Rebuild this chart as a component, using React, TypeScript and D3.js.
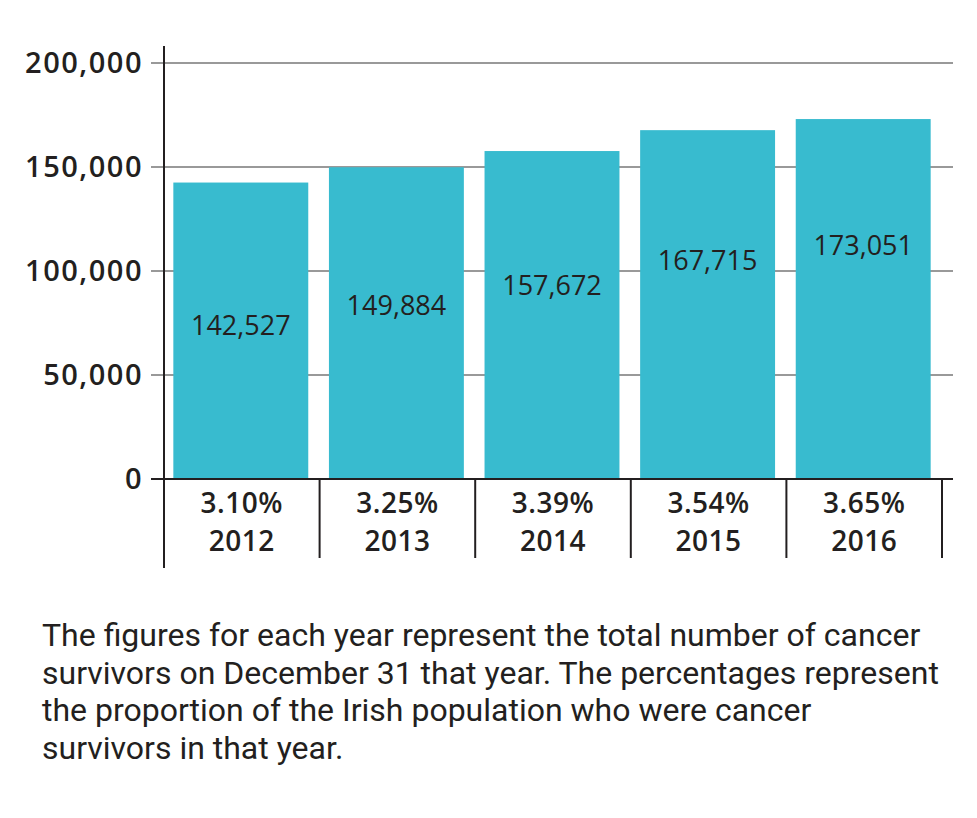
import React, { useEffect, useRef } from 'react';
import * as d3 from 'd3';

const years = ['2012', '2013', '2014', '2015', '2016'];
const survivors = [142527, 149884, 157672, 167715, 173051];
const percentages = ['3.10%', '3.25%', '3.39%', '3.54%', '3.65%'];
const yTicks = [0, 50000, 100000, 150000, 200000];
const captionLines = [
  'The figures for each year represent the total number of cancer',
  'survivors on December 31 that year. The percentages represent',
  'the proportion of the Irish population who were cancer',
  'survivors in that year.',
];

const width = 977;
const height = 818;
const ink = '#231f20';
const barColor = '#38bbcf';

const App: React.FC = () => {
  const svgRef = useRef<SVGSVGElement>(null);

  useEffect(() => {
    document.body.style.margin = '0';
    if (!svgRef.current) return;
    const svg = d3.select(svgRef.current);
    svg.selectAll('*').remove();

    const left = 164;
    const right = 942;
    const gridRight = 953;

    const x = d3.scaleBand<string>().domain(years).range([left, right]).padding(0);
    const y = d3.scaleLinear().domain([0, 200000]).range([479, 63]);

    // gridlines
    svg.append('g')
      .selectAll('line')
      .data(yTicks.filter(d => d > 0))
      .enter()
      .append('line')
      .attr('x1', left - 13)
      .attr('x2', gridRight)
      .attr('y1', d => y(d))
      .attr('y2', d => y(d))
      .attr('stroke', '#999999')
      .attr('stroke-width', 2);

    // bars
    const inset = x.bandwidth() * 0.06;
    svg.append('g')
      .selectAll('rect')
      .data(survivors)
      .enter()
      .append('rect')
      .attr('x', (_, i) => (x(years[i]) as number) + inset)
      .attr('width', x.bandwidth() - inset * 2 - 2)
      .attr('y', d => y(d))
      .attr('height', d => y(0) - y(d))
      .attr('fill', barColor);

    // value labels, sitting a little lower in the shorter bars
    svg.append('g')
      .selectAll('text')
      .data(survivors)
      .enter()
      .append('text')
      .attr('x', (_, i) => (x(years[i]) as number) + x.bandwidth() / 2 - 1)
      .attr('y', (d, i) => y(d) + 152 - i * 4)
      .attr('text-anchor', 'middle')
      .style('font-family', '"Open Sans", sans-serif')
      .style('font-size', '27px')
      .style('fill', ink)
      .text(d => d3.format(',')(d));

    // y tick labels
    svg.append('g')
      .selectAll('text')
      .data(yTicks)
      .enter()
      .append('text')
      .attr('x', 143)
      .attr('y', d => y(d))
      .attr('dy', '0.36em')
      .attr('text-anchor', 'end')
      .style('font-family', '"Open Sans", sans-serif')
      .style('font-weight', 600)
      .style('font-size', '29px')
      .style('letter-spacing', '1.5px')
      .style('fill', ink)
      .text(d => d3.format(',')(d));

    // baseline
    svg.append('line')
      .attr('x1', left - 13)
      .attr('x2', gridRight)
      .attr('y1', y(0))
      .attr('y2', y(0))
      .attr('stroke', ink)
      .attr('stroke-width', 2);

    // y axis line
    svg.append('line')
      .attr('x1', left)
      .attr('x2', left)
      .attr('y1', 46)
      .attr('y2', 568)
      .attr('stroke', ink)
      .attr('stroke-width', 2);

    // category separators
    svg.append('g')
      .selectAll('line')
      .data(years)
      .enter()
      .append('line')
      .attr('x1', d => (x(d) as number) + x.bandwidth())
      .attr('x2', d => (x(d) as number) + x.bandwidth())
      .attr('y1', y(0))
      .attr('y2', 558)
      .attr('stroke', ink)
      .attr('stroke-width', 2);

    // category labels
    const cat = svg.append('g')
      .selectAll('g')
      .data(years)
      .enter()
      .append('g')
      .attr('transform', d => `translate(${(x(d) as number) + x.bandwidth() / 2},0)`);
    cat.append('text')
      .attr('y', 513)
      .attr('text-anchor', 'middle')
      .style('font-family', '"Open Sans", sans-serif')
      .style('font-weight', 600)
      .style('font-size', '28px')
      .style('letter-spacing', '0.5px')
      .style('fill', ink)
      .text((_, i) => percentages[i]);
    cat.append('text')
      .attr('y', 551)
      .attr('text-anchor', 'middle')
      .style('font-family', '"Open Sans", sans-serif')
      .style('font-weight', 600)
      .style('font-size', '28px')
      .style('letter-spacing', '0.5px')
      .style('fill', ink)
      .text(d => d);

    // caption
    svg.append('g')
      .selectAll('text')
      .data(captionLines)
      .enter()
      .append('text')
      .attr('x', 42)
      .attr('y', (_, i) => 646 + i * 37.5)
      .style('font-family', 'Roboto, sans-serif')
      .style('font-size', '32px')
      .style('fill', ink)
      .text(d => d);
  }, []);

  return <svg ref={svgRef} width={width} height={height} style={{ display: 'block' }} />;
};

export default App;
